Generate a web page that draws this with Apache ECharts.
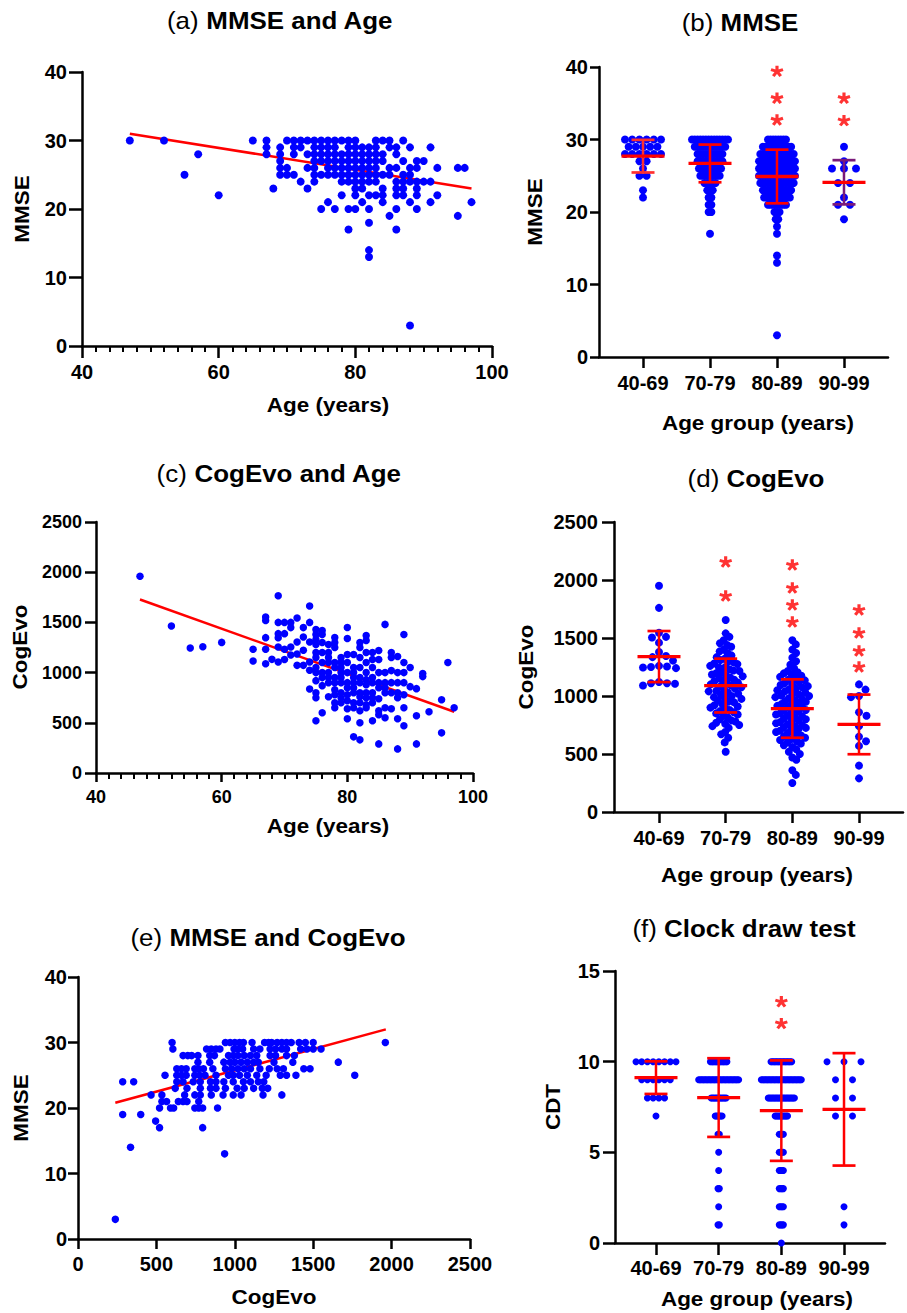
<!DOCTYPE html>
<html><head><meta charset="utf-8">
<script src="https://cdn.jsdelivr.net/npm/echarts@6/dist/echarts.min.js"></script>
<style>html,body{margin:0;padding:0;background:#fff}#c{width:907px;height:1313px}</style>
</head><body><div id="c"></div><script>
// ---------------- DATA ----------------
const groupLabels = ['40-69', '70-79', '80-89', '90-99'];

// (a) MMSE vs Age: [MMSE score, ages having that score]
const mmseAgeRows = [
  [30, [47, 52, 65, 67, 70, 71, 72, 73, 74, 75, 76, 77, 78, 79, 80, 83, 84, 85, 87]],
  [29, [67, 69, 71, 72, 74, 75, 76, 77, 79, 80, 81, 82, 83, 85, 86, 88, 91]],
  [28, [57, 67, 69, 71, 73, 74, 75, 76, 77, 78, 79, 80, 81, 82, 83, 84, 86]],
  [27, [69, 74, 75, 76, 77, 78, 79, 80, 81, 82, 83, 84, 87, 89, 90]],
  [26, [69, 70, 73, 74, 76, 77, 78, 79, 80, 81, 82, 83, 85, 86, 88, 89, 92, 95, 96]],
  [25, [55, 69, 70, 71, 74, 75, 76, 77, 78, 79, 80, 81, 82, 83, 84, 85, 87, 88]],
  [24, [72, 74, 78, 79, 80, 81, 82, 83, 86, 87, 88, 89, 90, 91]],
  [23, [68, 73, 80, 81, 84, 86, 87, 89]],
  [22, [60, 78, 80, 82, 83, 84, 86, 87, 89, 92]],
  [21, [76, 81, 84, 88, 91, 97]],
  [20, [75, 77, 79, 80, 82, 86, 89]],
  [19, [85, 95]],
  [18, [82]],
  [17, [79, 86]],
  [14, [82]],
  [13, [82]],
  [3, [88]]
];
const fitA = [[47, 31.0], [97, 23.0]];

// (c) CogEvo vs Age: [age, CogEvo scores]
const ageCogRows = [
  [47, [1960]], [52, [1464]], [55, [1245]], [57, [1258]], [60, [1301]],
  [65, [1232, 1116]],
  [67, [1554, 1520, 1348, 1232, 1089]],
  [68, [1132]],
  [69, [1766, 1500, 1388, 1348, 1255, 1106]],
  [70, [1500, 1388, 1232, 1130]],
  [71, [1500, 1448, 1255, 1175]],
  [72, [1544, 1305, 1185, 1072]],
  [73, [1448, 1355, 1222, 1072]],
  [74, [1663, 1500, 1305, 1106, 1023, 837]],
  [75, [1430, 1380, 1330, 1280, 1200, 1150, 1050, 1000, 920, 800, 750, 520]],
  [76, [1420, 1380, 1300, 1200, 1100, 1000, 950, 870, 600]],
  [77, [1280, 1200, 1150, 1100, 1000, 950, 900, 760]],
  [78, [1350, 1300, 1250, 1100, 1050, 950, 900, 830, 780, 700, 650]],
  [79, [1150, 1100, 1050, 1000, 950, 900, 800, 750, 700]],
  [80, [1450, 1340, 1180, 1100, 1000, 900, 850, 780, 720, 640, 540]],
  [81, [1180, 1050, 1000, 950, 900, 850, 800, 700, 650, 360]],
  [82, [1300, 1250, 1150, 1050, 950, 900, 800, 760, 700, 620, 500, 330]],
  [83, [1370, 1320, 1200, 1100, 1000, 930, 880, 800, 750, 680, 650]],
  [84, [1200, 1130, 1050, 950, 900, 800, 750, 700, 520]],
  [85, [1220, 1130, 1000, 900, 850, 740, 620, 580, 290]],
  [86, [1480, 1000, 900, 850, 800, 650, 550]],
  [87, [1200, 1150, 1020, 900, 800, 640]],
  [88, [1160, 1000, 900, 800, 750, 540, 240]],
  [89, [1380, 1100, 1000, 900, 780, 650, 470]],
  [90, [1050, 860]],
  [91, [840, 570, 290]],
  [92, [990, 960]],
  [93, [610]],
  [95, [730, 400]],
  [96, [1100]],
  [97, [650]]
];
const fitC = [[47, 1728], [97, 610]];

// (e) MMSE vs CogEvo: [MMSE score, CogEvo scores having that MMSE]
const mmseCogRows = [
  [30, [600, 940, 970, 1000, 1030, 1055, 1110, 1190, 1215, 1235, 1270, 1300, 1330, 1360, 1410, 1450, 1500, 1960]],
  [29, [605, 820, 850, 880, 905, 995, 1020, 1050, 1120, 1160, 1225, 1260, 1300, 1330, 1420, 1460, 1500, 1550]],
  [28, [670, 700, 725, 765, 840, 870, 960, 990, 1020, 1060, 1100, 1140, 1225, 1260, 1330, 1380]],
  [27, [765, 840, 930, 970, 1000, 1040, 1080, 1120, 1150, 1250, 1370, 1660]],
  [26, [630, 660, 690, 745, 770, 800, 860, 940, 980, 1020, 1060, 1100, 1160, 1220, 1270, 1310, 1440, 1480]],
  [25, [555, 630, 660, 690, 745, 775, 810, 880, 960, 990, 1030, 1080, 1140, 1200, 1290, 1330, 1390, 1765]],
  [24, [285, 355, 630, 670, 735, 780, 845, 880, 930, 990, 1055, 1100, 1150, 1185]],
  [23, [620, 695, 780, 845, 880, 940, 1015, 1060, 1120, 1175, 1210]],
  [22, [466, 535, 680, 745, 780, 850, 925, 990, 1040, 1180, 1300]],
  [21, [535, 565, 640, 670, 695, 770]],
  [20, [520, 590, 610, 745, 770, 795, 890]],
  [19, [285, 400]],
  [18, [495]],
  [17, [520, 795]],
  [14, [335]],
  [13, [935]],
  [3, [238]]
];
const fitE = [[238, 20.8], [1963, 32.0]];

// (b) MMSE by age group: [score, count]
const mmseG1 = [[30, 6], [29, 5], [28, 6], [27, 2], [26, 1], [25, 2], [23, 1], [22, 1]];
const mmseG2 = [[30, 14], [29, 12], [28, 10], [27, 10], [26, 9], [25, 8], [24, 5], [23, 3], [22, 2], [21, 2], [20, 2], [17, 1]];
const mmseG3 = [[30, 8], [29, 12], [28, 14], [27, 15], [26, 15], [25, 15], [24, 14], [23, 12], [22, 11], [21, 8], [20, 3], [19, 2], [18, 1], [17, 1], [14, 1], [13, 1], [3, 1]];
const mmseG4 = [[29, 1], [27, 1], [26, 3], [24, 2], [22, 1], [21, 2], [19, 1]];
const mmseMean = [27.7, 26.7, 24.9, 24.1];
const mmseSD = [2.25, 2.6, 3.7, 3.05];
const mmseStars = [[2, 39.4], [2, 35.7], [2, 32.7], [3, 35.7], [3, 32.6]];

// (d) CogEvo by age group
const cogG1 = [1950, 1760, 1545, 1510, 1505, 1460, 1380, 1345, 1335, 1305, 1260, 1255, 1250, 1245, 1240, 1120, 1110, 1110, 1105, 1090];
const cogG2 = [1655, 1540, 1510, 1480, 1455, 1440, 1425, 1400, 1385, 1370, 1350, 1335, 1320, 1310, 1300, 1290, 1280, 1275, 1260, 1250,
  1245, 1230, 1220, 1215, 1200, 1195, 1185, 1175, 1170, 1160, 1150, 1140, 1130, 1125, 1115, 1105, 1100, 1090, 1080, 1075,
  1065, 1055, 1045, 1040, 1030, 1020, 1010, 1000, 990, 985, 975, 960, 950, 945, 930, 920, 910, 900, 890, 880,
  870, 860, 850, 840, 830, 815, 800, 790, 780, 770, 760, 750, 740, 725, 690, 670, 640, 600, 520];
const cogG3 = [1480, 1445, 1400, 1370, 1330, 1300, 1270, 1240, 1215, 1205, 1195, 1185, 1175, 1165, 1150, 1140, 1135, 1120, 1110, 1100,
  1095, 1085, 1075, 1065, 1055, 1050, 1040, 1030, 1020, 1015, 1005, 1000, 990, 980, 975, 965, 955, 950, 940, 930,
  925, 915, 905, 900, 890, 880, 875, 865, 855, 850, 840, 830, 825, 815, 805, 800, 790, 780, 775, 765,
  755, 750, 740, 730, 725, 715, 705, 700, 690, 680, 670, 660, 650, 640, 630, 620, 610, 600, 590, 575,
  560, 540, 520, 500, 470, 450, 360, 320, 250];
const cogG4 = [1100, 1055, 1000, 990, 860, 830, 740, 650, 610, 570, 400, 290];
const cogMean = [1340, 1090, 892, 755];
const cogSD = [220, 232, 252, 257];
const cogStars = [[1, 2155], [1, 1862], [2, 2129], [2, 1931], [2, 1784], [2, 1638], [3, 1741], [3, 1543], [3, 1388], [3, 1250]];

// (f) CDT by age group: [score, count]
const cdtG1 = [[10, 8], [9, 6], [8, 4], [7, 1]];
const cdtG2 = [[10, 13], [9, 30], [8, 12], [7, 6], [6, 2], [5, 1], [4, 1], [3, 2], [2, 1], [1, 2]];
const cdtG3 = [[10, 16], [9, 30], [8, 20], [7, 10], [6, 4], [5, 4], [4, 4], [3, 4], [2, 4], [1, 4], [0, 1]];
const cdtG4 = [[10, 3], [9, 2], [8, 2], [7, 2], [2, 1], [1, 1]];
const cdtMean = [9.12, 8.02, 7.30, 7.37];
const cdtSD = [0.9, 2.17, 2.77, 3.1];
const cdtStars = [[2, 13.3], [2, 12.1]];

// ---------------- LAYOUT HELPERS ----------------
const FONT = '"Liberation Sans", Arial, Helvetica, sans-serif';
const BLUE = '#0000ff', RED = '#ff0000';
const grids = [
  {left: 82, top: 72, width: 410, height: 274},
  {left: 599, top: 67, width: 289, height: 290},
  {left: 96, top: 522, width: 377, height: 251},
  {left: 614, top: 522, width: 289, height: 290},
  {left: 78, top: 977, width: 392, height: 262},
  {left: 615, top: 971, width: 270, height: 272}
];
const catRange = {1: [-0.657, 3.657], 3: [-0.675, 3.66], 5: [-0.654, 3.654]};

function rowsToPairs(rows, yFirst) {
  const out = [];
  rows.forEach(([k, arr]) => arr.forEach(v => out.push(yFirst ? [v, k] : [k, v])));
  return out;
}
function rowLayout(counts, gi, natural, maxSpan, dotIdx) {
  const pxX = grids[gi].width / (catRange[gi][1] - catRange[gi][0]);
  const maxN = Math.max(...counts.map(c => c[1]));
  const step = maxN > 1 ? natural * Math.min(1, maxSpan / ((maxN - 1) * natural)) : natural;
  const out = [];
  counts.forEach(([v, n]) => { for (let i = 0; i < n; i++) out.push([dotIdx + (i - (n - 1) / 2) * step / pxX, v]); });
  return out;
}
function swarm(values, gi, yMax, d, maxHalf, dotIdx) {
  const pxX = grids[gi].width / (catRange[gi][1] - catRange[gi][0]);
  const pxY = grids[gi].height / yMax;
  const sorted = [...values].sort((a, b) => b - a);
  const placed = [];
  sorted.forEach(v => {
    const y = v * pxY; let best = 0;
    for (let k = 0; k < 600; k++) {
      const x = (k % 2 ? 1 : -1) * Math.ceil(k / 2) * 0.5;
      if (placed.every(p => (p[0] - x) ** 2 + (p[1] - y) ** 2 >= d * d)) { best = x; break; }
    }
    placed.push([best, y, v]);
  });
  const m = Math.max(...placed.map(p => Math.abs(p[0])));
  const f = m > maxHalf ? maxHalf / m : 1;
  return placed.map(p => [dotIdx + p[0] * f / pxX, p[2]]);
}
function asteriskPath() {
  let d = ''; const R = 10, w = 2.5;
  for (let k = 0; k < 5; k++) {
    const a = (-90 + k * 72) * Math.PI / 180, ux = Math.cos(a), uy = Math.sin(a), px = -uy, py = ux;
    const pts = [[px * w, py * w], [ux * R + px * w, uy * R + py * w], [ux * R - px * w, uy * R - py * w], [-px * w, -py * w]];
    d += 'M' + pts.map(p => p[0].toFixed(2) + ' ' + p[1].toFixed(2)).join(' L') + ' Z ';
  }
  return 'path://' + d;
}
const STAR = asteriskPath();

function axisBase(gi, o) {
  return {
    gridIndex: gi, type: 'value',
    axisLine: {show: true, onZero: false, lineStyle: {color: '#000', width: 2.5}},
    axisTick: {show: true, inside: false, length: o.tickLen, lineStyle: {color: '#000', width: 2.5}},
    axisLabel: {color: '#000', fontWeight: 'bold', fontFamily: FONT, fontSize: o.fs, margin: o.margin,
      formatter: v => String(v)},
    splitLine: {show: false}
  };
}
function valAxis(gi, min, max, interval, o) {
  const a = axisBase(gi, o);
  a.min = min; a.max = max; a.interval = interval;
  if (o.minor) a.minorTick = {show: true, splitNumber: 10, length: 6, lineStyle: {color: '#000', width: 2}};
  return a;
}
function groupAxis(gi, o) {
  const a = axisBase(gi, o);
  a.min = catRange[gi][0]; a.max = catRange[gi][1];
  a.axisTick.customValues = [0, 1, 2, 3];
  a.axisLabel.customValues = [0, 1, 2, 3];
  a.axisLabel.formatter = v => groupLabels[Math.round(v)] || '';
  return a;
}
function errSeries(gi, means, sds, colors) {
  return {
    type: 'custom', xAxisIndex: gi, yAxisIndex: gi, z: 5,
    data: means.map((m, i) => [i, m, sds[i]]),
    renderItem: (params, api) => {
      const x = api.value(0), m = api.value(1), s = api.value(2);
      const c = api.coord([x, m]), t = api.coord([x, m + s]), b = api.coord([x, m - s]);
      const col = colors[params.dataIndex];
      return {type: 'group', children: [
        {type: 'line', shape: {x1: c[0], y1: t[1], x2: c[0], y2: b[1]}, style: {stroke: col, lineWidth: 2.5}},
        {type: 'line', shape: {x1: c[0] - 11.5, y1: t[1], x2: c[0] + 11.5, y2: t[1]}, style: {stroke: col, lineWidth: 2.7}},
        {type: 'line', shape: {x1: c[0] - 11.5, y1: b[1], x2: c[0] + 11.5, y2: b[1]}, style: {stroke: col, lineWidth: 2.7}},
        {type: 'line', shape: {x1: c[0] - 21.5, y1: c[1], x2: c[0] + 21.5, y2: c[1]}, style: {stroke: RED, lineWidth: 3.3}}
      ]};
    }
  };
}
function dots(gi, data, size) {
  return {type: 'scatter', xAxisIndex: gi, yAxisIndex: gi, z: 3, symbolSize: size, data,
    itemStyle: {color: BLUE, opacity: 1}, emphasis: {disabled: true}, animation: false};
}
function fit(gi, data) {
  return {type: 'line', xAxisIndex: gi, yAxisIndex: gi, z: 2, data, showSymbol: false, symbol: 'none',
    lineStyle: {color: RED, width: 2.5}, animation: false};
}
function stars(gi, data) {
  return {type: 'scatter', xAxisIndex: gi, yAxisIndex: gi, z: 6, symbol: STAR, symbolSize: [13, 12], symbolKeepAspect: true,
    data, itemStyle: {color: RED}, animation: false};
}
function title(x, y, tag, main) {
  return {type: 'text', x, y, scaleX: 1.08, style: {text: '{n|' + tag + '} {b|' + main + '}', fontFamily: FONT, fontSize: 24,
    align: 'center', verticalAlign: 'middle', fill: '#000',
    rich: {n: {fontFamily: FONT, fontSize: 24, fontWeight: 'normal', fill: '#000'},
           b: {fontFamily: FONT, fontSize: 24, fontWeight: 'bold', fill: '#000'}}}};
}
function axName(x, y, text, rotate) {
  return {type: 'text', x, y, rotation: rotate ? Math.PI / 2 : 0, scaleX: 1.07,
    style: {text, fontFamily: FONT, fontSize: 21, fontWeight: 'bold', fill: '#000', align: 'center', verticalAlign: 'middle'}};
}

// ---------------- OPTION ----------------
const dataB = [mmseG1, mmseG2, mmseG3, mmseG4].flatMap((g, i) => rowLayout(g, 1, 12, 36, i));
const dataD = [cogG1, cogG2, cogG3, cogG4].flatMap((g, i) => swarm(g, 3, 2500, 8, 17, i));
const dataF = [cdtG1, cdtG2, cdtG3, cdtG4].flatMap((g, i) => rowLayout(g, 5, 17, 40, i));

const option = {
  backgroundColor: '#fff',
  animation: false,
  grid: grids.map(g => Object.assign({outerBoundsMode: 'none', containLabel: false}, g)),
  xAxis: [
    valAxis(0, 40, 100, 20, {minor: true, tickLen: 12, margin: 16, fs: 20}),
    groupAxis(1, {tickLen: 11, margin: 16, fs: 20}),
    valAxis(2, 40, 100, 20, {minor: true, tickLen: 9, margin: 15, fs: 18}),
    groupAxis(3, {tickLen: 11, margin: 16, fs: 20}),
    valAxis(4, 0, 2500, 500, {tickLen: 10, margin: 15, fs: 20}),
    groupAxis(5, {tickLen: 12, margin: 15, fs: 20})
  ],
  yAxis: [
    valAxis(0, 0, 40, 10, {tickLen: 13, margin: 15, fs: 20}),
    valAxis(1, 0, 40, 10, {tickLen: 9, margin: 11, fs: 20}),
    valAxis(2, 0, 2500, 500, {tickLen: 11, margin: 14, fs: 18}),
    valAxis(3, 0, 2500, 500, {tickLen: 12, margin: 16, fs: 20}),
    valAxis(4, 0, 40, 10, {tickLen: 10, margin: 11, fs: 20}),
    valAxis(5, 0, 15, 5, {tickLen: 12, margin: 15, fs: 20})
  ],
  series: [
    fit(0, fitA), dots(0, rowsToPairs(mmseAgeRows, true), 8),
    dots(1, dataB, 8), errSeries(1, mmseMean, mmseSD, ['#ff3030', RED, RED, '#7a1a7a']), stars(1, mmseStars),
    fit(2, fitC), dots(2, rowsToPairs(ageCogRows, false), 7.5),
    dots(3, dataD, 8), errSeries(3, cogMean, cogSD, [RED, RED, RED, RED]), stars(3, cogStars),
    fit(4, fitE), dots(4, rowsToPairs(mmseCogRows, true), 7.5),
    dots(5, dataF, 7), errSeries(5, cdtMean, cdtSD, [RED, RED, RED, RED]), stars(5, cdtStars)
  ],
  graphic: [
    title(280, 20, '(a)', 'MMSE and Age'),
    title(740, 22, '(b)', 'MMSE'),
    title(279, 473, '(c)', 'CogEvo and Age'),
    title(756, 478, '(d)', 'CogEvo'),
    title(268, 937, '(e)', 'MMSE and CogEvo'),
    title(744, 928, '(f)', 'Clock draw test'),
    axName(328, 405, 'Age (years)'),
    axName(758, 423, 'Age group (years)'),
    axName(328, 826, 'Age (years)'),
    axName(757, 875, 'Age group (years)'),
    axName(274, 1297, 'CogEvo'),
    axName(757, 1299, 'Age group (years)'),
    axName(22, 209, 'MMSE', true),
    axName(535, 212, 'MMSE', true),
    axName(20, 647, 'CogEvo', true),
    axName(526, 667, 'CogEvo', true),
    axName(21, 1108, 'MMSE', true),
    axName(553, 1107, 'CDT', true)
  ]
};
const chart = echarts.init(document.getElementById('c'), null, {renderer: 'svg'});
chart.setOption(option);
</script></body></html>
